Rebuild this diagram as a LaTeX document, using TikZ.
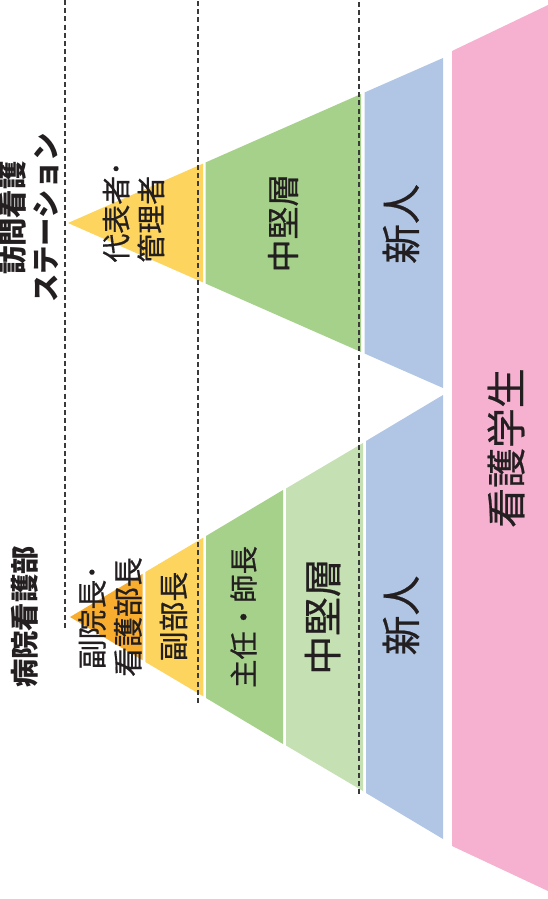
\documentclass[tikz,border=0pt]{standalone}
\usepackage{fontspec}
\newfontfamily\jp[FakeBold=0.6]{Noto Sans CJK JP}
\newfontfamily\jpb{Noto Sans CJK JP}
\definecolor{ink}{HTML}{231F20}
\definecolor{dashc}{HTML}{3A3A3A}
\definecolor{orangeT}{HTML}{F8AD2E}
\definecolor{yellowT}{HTML}{FDD55E}
\definecolor{greenT}{HTML}{A6D18A}
\definecolor{lgreenT}{HTML}{C5E0B2}
\definecolor{blueT}{HTML}{B1C6E5}
\definecolor{pinkT}{HTML}{F5B1CF}
\begin{document}
\begin{tikzpicture}[x=1bp,y=-1bp,
  tier/.style={fill=#1, draw=none},
  lab/.style={text=ink, rotate=90, inner sep=0pt, align=center},
  sep/.style={draw=dashc, line width=1.1bp, dash pattern=on 5bp off 3.2bp}]
\useasboundingbox (0,0) rectangle (548,899);
% pink
\fill[pinkT] (452,51) -- (548,5) -- (548,891) -- (452,846) -- cycle;
% top pyramid (apex 68,223 ; slope 0.44)
\fill[yellowT] (68,223) -- (203,163.6) -- (203,282.4) -- cycle;
\fill[greenT] (205.5,162.5) -- (361,94) -- (361,352) -- (205.5,283.5) -- cycle;
\fill[blueT] (364.5,92.5) -- (443,58) -- (443,388) -- (364.5,353.5) -- cycle;
% bottom pyramid (apex 70,617 ; slope 0.595)
\fill[orangeT] (70,617) -- (142.6,573.8) -- (142.6,660.2) -- cycle;
\fill[yellowT] (145.4,572) -- (203.4,537.6) -- (203.4,696.4) -- (145.4,662) -- cycle;
\fill[greenT] (206,536) -- (283,490) -- (283,744) -- (206,698) -- cycle;
\fill[lgreenT] (286,488.5) -- (363,443) -- (363,791) -- (286,745.5) -- cycle;
\fill[blueT] (366,441) -- (443,395) -- (443,839) -- (366,793) -- cycle;
% labels
\node[lab, font=\jpb\bfseries\fontsize{28.5}{32.5}\selectfont] (station) at (29,218) {訪問看護\\ステーション};
\node[lab, font=\jpb\bfseries\fontsize{28.5}{32.5}\selectfont] (hospital) at (24.5,617) {病院看護部};
\node[lab, align=left, font=\jp\fontsize{29}{35}\selectfont] (rep) at (133.5,212) {代表者･\\管理者};
\node[lab, font=\jp\fontsize{33}{40}\selectfont] (midA) at (283,223) {中堅層};
\node[lab, font=\jp\fontsize{40}{48}\selectfont] (newA) at (401,224) {新人};
\node[lab, font=\jp\fontsize{40}{48}\selectfont] (student) at (506,448) {看護学生};
\node[lab, font=\jp\fontsize{30}{36}\selectfont] (vice) at (110,617) {副院長･\\看護部長};
\node[lab, font=\jp\fontsize{30}{36}\selectfont] (deputy) at (173.5,616.5) {副部長};
\node[lab, font=\jp\fontsize{28.5}{34}\selectfont] (chief) at (243.5,617) {主任・師長};
\node[lab, font=\jp\fontsize{39}{46}\selectfont] (midB) at (322.5,616.5) {中堅層};
\node[lab, font=\jp\fontsize{40}{48}\selectfont] (newB) at (401,615.5) {新人};
% dashed separators
\draw[sep] (65,0) -- (65,630);
\draw[sep] (198,1) -- (198,703);
\draw[sep] (359,2) -- (359,795);
\end{tikzpicture}
\end{document}
